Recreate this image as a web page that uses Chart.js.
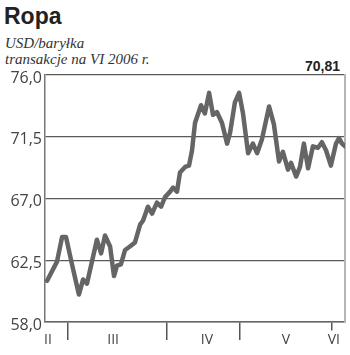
<!DOCTYPE html>
<html>
<head>
<meta charset="utf-8">
<script src="https://cdn.jsdelivr.net/npm/chart.js@4"></script>
<style>
  html, body { margin:0; padding:0; background:#fff; }
  #wrap { position:relative; width:350px; height:355px; overflow:hidden; }
  #chart { position:absolute; left:0; top:0; }
  .title { position:absolute; left:4px; top:5px; font:bold 23px/23px "Liberation Sans", Arial, sans-serif; color:#222; }
  .sub { position:absolute; left:5px; top:35px; font:italic 15px/16px "Liberation Serif", serif; color:#333; }
  .last { position:absolute; right:10px; top:59px; font:bold 14px/14px "Liberation Sans", Arial, sans-serif; color:#222; }
</style>
</head>
<body>
<div id="wrap">
  <div class="title">Ropa</div>
  <div class="sub">USD/baryłka<br>transakcje na VI 2006 r.</div>
  <div class="last">70,81</div>
  <canvas id="chart" width="350" height="355"></canvas>
</div>
<script>
// ---------- DATA ----------
const days = [0.7,4,5.7,7,9,11.3,12.7,14,17.3,18.7,20,21.7,23,24,25.3,26.7,28.3,30,31.7,32.7,
  34.3,35.7,37.3,38.7,40,41.7,42.7,44,45,46.7,48,49,50,52,53.3,54.7,56,57.3,59,60.7,
  61.7,63.3,64.7,66,67.7,69.3,70.7,72.3,74.7,76.3,78,79.3,81,82,83.7,85,86.3,87.7,89.3,91,
  92.3,93.7,95.3,97,98,99,100];
const prices = [61.0,62.4,64.2,64.2,62.2,60.0,61.1,60.8,64.0,63.0,64.3,63.5,61.35,62.1,62.2,63.25,63.5,63.8,65.1,65.4,
  66.4,65.9,66.7,66.4,67.1,67.5,67.8,67.5,68.9,69.3,69.4,70.5,72.5,73.8,73.2,74.7,73.1,73.3,72.5,71.0,
  71.8,74.0,74.7,73.2,70.3,71.0,70.3,71.3,73.7,72.4,69.7,70.4,69.1,69.6,68.6,69.3,71.0,69.2,70.8,70.7,
  71.1,70.5,69.4,71.0,71.4,71.0,70.81];

const monthTicks = [7.7, 40.7, 65, 95.7];
const monthLabelPos = [1, 22.7, 54, 80.3, 96.3];
const monthLabels = ["II","III","IV","V","VI"];

const yTicks = [58, 62.5, 67, 71.5, 76];

// ---------- CHART ----------
function initChart(){
    const ctx = document.getElementById("chart");

    const points = days.map((d,i)=>({x:d, y:prices[i]}));

    new Chart(ctx, {
        type:"line",
        data:{
            datasets:[{
                data:points,
                borderColor:"#656565",
                borderWidth:4.5,
                borderJoinStyle:"round",
                borderCapStyle:"round",
                pointRadius:0,
                tension:0
            }]
        },
        options:{
            responsive:false,
            animation:false,
            events:[],
            layout:{ padding:{ top:75, right:5, bottom:0, left:0 } },
            plugins:{ legend:{ display:false }, tooltip:{ enabled:false } },
            scales:{
                x:{
                    type:"linear",
                    min:0, max:100,
                    afterFit:s=>{ s.height = 33; },
                    afterBuildTicks:s=>{
                        s.ticks = monthTicks.concat(monthLabelPos).map(v=>({value:v}));
                    },
                    ticks:{
                        autoSkip:false,
                        maxRotation:0,
                        padding:-8,
                        color:"#444",
                        font:{ family:"'Open Sans', sans-serif", size:14 },
                        callback:(v)=>{
                            const i = monthLabelPos.indexOf(v);
                            return i >= 0 ? monthLabels[i] : "";
                        }
                    },
                    grid:{
                        drawOnChartArea:false,
                        tickLength:18,
                        lineWidth:1.5,
                        tickColor:c=> monthTicks.includes(c.tick && c.tick.value) ? "#555" : "rgba(0,0,0,0)",
                        tickBorderDash:c=> (c.tick && c.tick.value === monthTicks[3]) ? [8,40] : []
                    },
                    border:{ color:"#666", width:1.5 }
                },
                y:{
                    min:58, max:76,
                    afterFit:s=>{ s.width = 45; },
                    afterBuildTicks:s=>{ s.ticks = yTicks.map(v=>({value:v})); },
                    ticks:{
                        padding:3,
                        labelOffset:3,
                        color:"#444",
                        font:{ family:"'Open Sans', sans-serif", size:16 },
                        callback:v=> v.toFixed(1).replace(".", ",")
                    },
                    grid:{ drawTicks:false, color:"#5a5a5a", lineWidth:1.3 },
                    border:{ color:"#777", width:1.5 }
                },
                y2:{
                    position:"right",
                    min:58, max:76,
                    afterFit:s=>{ s.width = 0; },
                    ticks:{ display:false },
                    grid:{ display:false, drawTicks:false },
                    border:{ color:"#b5b5b5", width:2 }
                }
            }
        }
    });
}

document.addEventListener("DOMContentLoaded", initChart);
</script>
</body>
</html>
